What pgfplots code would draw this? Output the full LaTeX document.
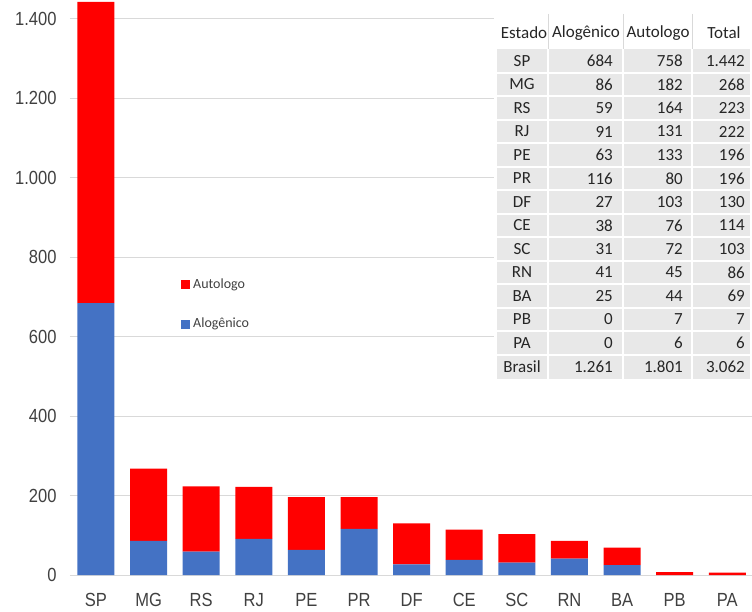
\documentclass[border=0pt]{standalone}
\usepackage{pgfplots}
\pgfplotsset{compat=1.18}
\usepackage{fontspec}
\setmainfont{Carlito}
\newfontfamily\tickfont[FakeStretch=0.87]{Liberation Sans}
\definecolor{aloblue}{HTML}{4472C4}
\definecolor{autored}{HTML}{FF0000}
\definecolor{ticktext}{HTML}{404040}
\definecolor{gridgray}{HTML}{D9D9D9}
\definecolor{cellgray}{HTML}{E8E8E8}
\begin{document}
\begin{tikzpicture}
\begin{axis}[
  scale only axis, width=682pt, height=575pt,
  anchor=south west, at={(0pt,0pt)},
  xmin=-0.494, xmax=12.47, ymin=0, ymax=1447,
  ybar stacked, bar width=37pt,
  axis line style={draw=none},
  major tick length=0pt,
  xtick={0,...,12},
  xticklabels={SP,MG,RS,RJ,PE,PR,DF,CE,SC,RN,BA,PB,PA},
  ytick={0,200,...,1400},
  ymajorgrids, grid style={gridgray, line width=0.8pt},
  ticklabel style={font=\tickfont\fontsize{19}{19}\selectfont, text=ticktext},
  yticklabel style={/pgf/number format/1000 sep={.}, /pgf/number format/assume math mode=true, xshift=-10pt},
  xticklabel style={yshift=-15pt},
]
\addplot[fill=aloblue, draw=none] coordinates {(0,684) (1,86) (2,59) (3,91) (4,63) (5,116) (6,27) (7,38) (8,31) (9,41) (10,25) (11,0) (12,0)};
\addplot[fill=autored, draw=none] coordinates {(0,758) (1,182) (2,164) (3,131) (4,133) (5,80) (6,103) (7,76) (8,72) (9,45) (10,44) (11,7) (12,6)};
\end{axis}
\begin{scope}[shift={(-70pt,575pt)}, x=1pt, y=-1pt]
  % legend
  \fill[autored] (181,280.5) rectangle (190,289.5);
  \node[anchor=west, inner sep=0pt, text=ticktext] at (193,285) {\fontsize{14}{14}\selectfont Autologo};
  \fill[aloblue] (181,319.5) rectangle (190,328.5);
  \node[anchor=west, inner sep=0pt, text=ticktext] at (193,324) {\fontsize{14}{14}\selectfont Alogênico};
  % table
  \fill[white] (494,10) rectangle (752,382);
  \fill[cellgray] (497,49.25) rectangle (750,378.75);
  \foreach \k in {0,...,12} {
    \pgfmathsetmacro\yy{72.75+\k*23.5}
    \draw[white, line width=2pt] (497,\yy) -- (750,\yy);
  }
  \foreach \xx in {548,623,692} {
    \draw[white, line width=2pt] (\xx,49.25) -- (\xx,378.75);
    \draw[gridgray, line width=1pt] (\xx,14) -- (\xx,49.25);
  }
  \begin{scope}[every node/.style={inner sep=0pt, text=black!85, font=\fontsize{17}{17}\selectfont}]
    \node at (524,33) {Estado};
    \node at (586,33) {Alogênico};
    \node at (658,33) {Autologo};
    \node at (724,33) {Total};
    \foreach \st/\a/\b/\t [count=\i from 0] in {SP/684/758/1.442, MG/86/182/268, RS/59/164/223, RJ/91/131/222, PE/63/133/196, PR/116/80/196, DF/27/103/130, CE/38/76/114, SC/31/72/103, RN/41/45/86, BA/25/44/69, PB/0/7/7, PA/0/6/6, Brasil/1.261/1.801/3.062} {
      \pgfmathsetmacro\yy{61+\i*23.5}
      \node at (522,\yy) {\st};
      \node[anchor=east] at (613,\yy) {\a};
      \node[anchor=east] at (683,\yy) {\b};
      \node[anchor=east] at (745,\yy) {\t};
    }
  \end{scope}
\end{scope}
\pgfresetboundingbox
\path (-70pt,-36pt) rectangle (682pt,575pt);
\end{tikzpicture}
\end{document}
